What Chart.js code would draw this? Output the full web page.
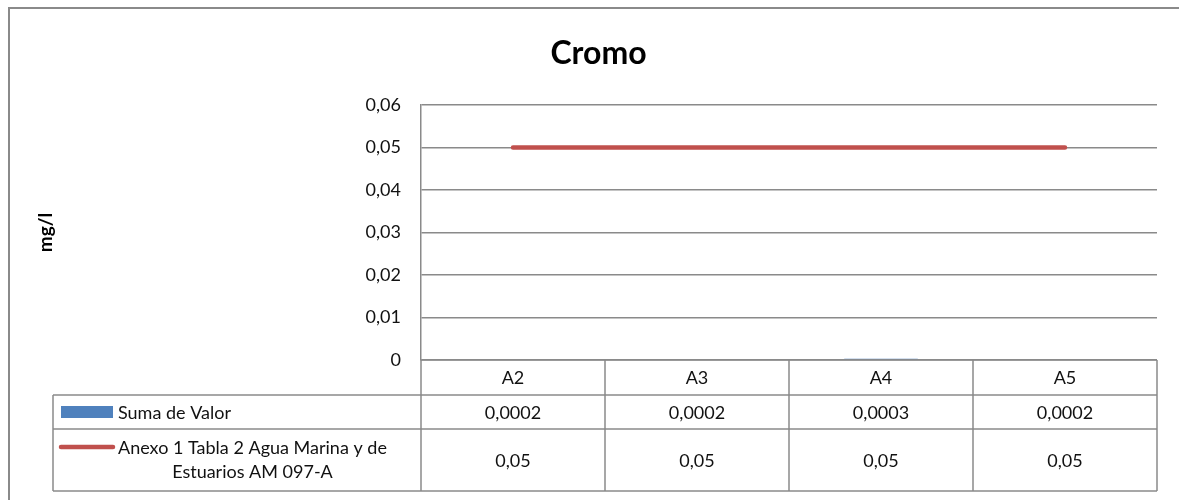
<!DOCTYPE html>
<html>
<head>
<meta charset="utf-8">
<script src="https://cdn.jsdelivr.net/npm/chart.js@4.4.0/dist/chart.umd.min.js"></script>
<style>
  body { margin: 0; background: #fff; }
  #chart { display: block; }
</style>
</head>
<body>
<canvas id="chart" width="1179" height="500"></canvas>
<script>
// Datos del gráfico
var categorias = ['A2', 'A3', 'A4', 'A5'];
var suma_valor = [0.0002, 0.0002, 0.0003, 0.0002];
var limite_anexo = [0.05, 0.05, 0.05, 0.05];
var nombre_suma = 'Suma de Valor';
var nombre_anexo = ['Anexo 1 Tabla 2 Agua Marina y de', 'Estuarios AM 097-A'];
var y_ticks = [0, 0.01, 0.02, 0.03, 0.04, 0.05, 0.06];

var fuente = 'Lato, "Open Sans", sans-serif';
var gris = '#8a8a8a';

// Formato con coma decimal
function coma(v) {
    return String(Math.round(v * 10000) / 10000).replace('.', ',');
}

// Marco exterior y fondo
var marco = {
    id: 'marco',
    beforeDraw: function(chart) {
        var c = chart.ctx;
        c.save();
        c.fillStyle = '#fff';
        c.fillRect(0, 0, chart.width, chart.height);
        c.strokeStyle = gris;
        c.lineWidth = 2;
        c.beginPath();
        c.moveTo(9, chart.height + 5);
        c.lineTo(9, 8);
        c.lineTo(chart.width + 5, 8);
        c.stroke();
        c.restore();
    }
};

// Tabla de datos debajo del gráfico
var tabla = {
    id: 'tabla',
    afterDraw: function(chart) {
        var c = chart.ctx;
        var area = chart.chartArea;
        var x = chart.scales.x;
        var paso = (area.right - area.left) / categorias.length;
        var izq = 53;
        var y0 = area.bottom, y1 = y0 + 35, y2 = y1 + 34, y3 = y2 + 62;

        c.save();
        c.strokeStyle = gris;
        c.lineWidth = 1.5;
        c.beginPath();
        // horizontales
        c.moveTo(area.left, y0); c.lineTo(area.right, y0);
        c.moveTo(izq, y1); c.lineTo(area.right, y1);
        c.moveTo(izq, y2); c.lineTo(area.right, y2);
        c.moveTo(izq, y3); c.lineTo(area.right, y3);
        // verticales
        c.moveTo(izq, y1); c.lineTo(izq, y3);
        for (var i = 0; i <= categorias.length; i++) {
            var xv = area.left + paso * i;
            c.moveTo(xv, y0); c.lineTo(xv, y3);
        }
        c.stroke();

        c.fillStyle = '#111';
        c.font = '18px ' + fuente;
        c.textAlign = 'center';
        c.textBaseline = 'middle';
        for (var j = 0; j < categorias.length; j++) {
            var cx = x.getPixelForValue(j);
            c.fillText(categorias[j], cx, (y0 + y1) / 2 + 1);
            c.fillText(coma(suma_valor[j]), cx, (y1 + y2) / 2 + 1);
            c.fillText(coma(limite_anexo[j]), cx, (y2 + y3) / 2 + 1);
        }

        // claves de leyenda
        c.fillStyle = '#4F81BD';
        c.fillRect(61, 406, 52, 12);
        c.strokeStyle = '#C0504D';
        c.lineWidth = 4.5;
        c.lineCap = 'round';
        c.beginPath();
        c.moveTo(61, 447); c.lineTo(113, 447);
        c.stroke();

        c.fillStyle = '#111';
        c.textAlign = 'left';
        c.fillText(nombre_suma, 118, (y1 + y2) / 2 + 1);
        var w = c.measureText(nombre_anexo[0]).width;
        c.textAlign = 'center';
        c.fillText(nombre_anexo[0], 118 + w / 2, 448);
        c.fillText(nombre_anexo[1], 118 + w / 2, 472);
        c.restore();
    }
};

var ctx = document.getElementById('chart');
var grafico = new Chart(ctx, {
    data: {
        labels: categorias,
        datasets: [{
            type: 'line',
            label: nombre_anexo.join(' '),
            data: limite_anexo,
            borderColor: '#C0504D',
            backgroundColor: '#C0504D',
            borderWidth: 4.5,
            borderCapStyle: 'round',
            pointRadius: 0,
            order: 0
        }, {
            type: 'bar',
            label: nombre_suma,
            data: suma_valor,
            backgroundColor: '#4F81BD',
            barPercentage: 0.4,
            categoryPercentage: 1,
            order: 1
        }]
    },
    options: {
        responsive: false,
        devicePixelRatio: 1,
        animation: false,
        layout: { padding: { left: 40, right: 22, top: 0, bottom: 140 } },
        plugins: {
            legend: { display: false },
            tooltip: { enabled: false },
            title: {
                display: true,
                text: 'Cromo',
                color: '#000',
                font: { family: fuente, size: 32, weight: 'bold' },
                padding: { top: 34, bottom: 32.6 }
            }
        },
        scales: {
            x: { display: false },
            y: {
                min: 0,
                max: 0.06,
                afterFit: function(scale) { scale.width = 381; },
                afterBuildTicks: function(scale) {
                    scale.ticks = y_ticks.map(function(v) { return { value: v }; });
                },
                ticks: {
                    padding: 20,
                    color: '#111',
                    font: { family: fuente, size: 18 },
                    callback: function(v) { return coma(v); }
                },
                grid: { color: gris, lineWidth: 1.5, drawTicks: false },
                border: { color: gris, width: 1.5 },
                title: {
                    display: true,
                    text: 'mg/l',
                    color: '#000',
                    font: { family: fuente, size: 19, weight: 'bold' },
                    padding: { top: -6, bottom: 0 }
                }
            }
        }
    },
    plugins: [marco, tabla]
});
</script>
</body>
</html>
